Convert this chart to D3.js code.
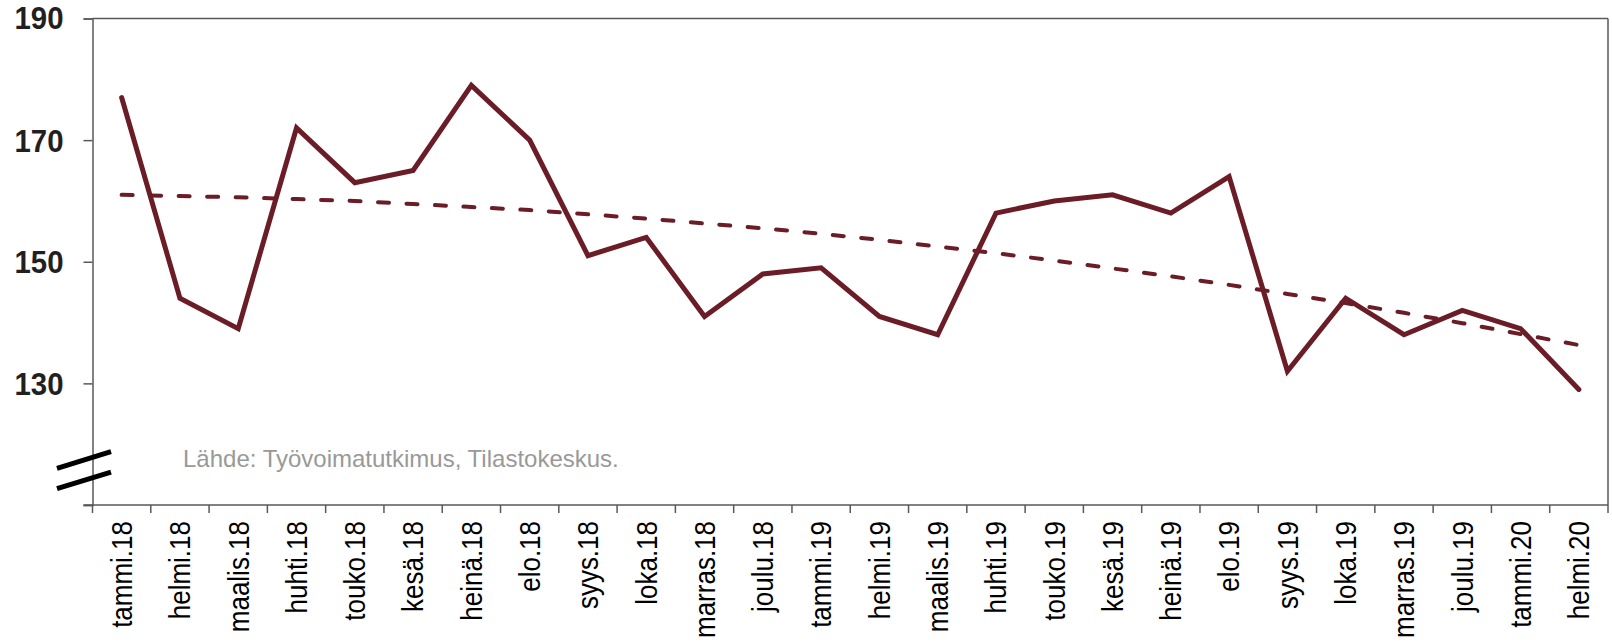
<!DOCTYPE html>
<html>
<head>
<meta charset="utf-8">
<script src="https://cdn.jsdelivr.net/npm/d3@7"></script>
<style>
  body { margin: 0; background: #fff; }
  svg { display: block; font-family: "Liberation Sans", Arial, sans-serif; }
  .domain, .tick line { stroke: #595959; stroke-width: 1.5; }
</style>
</head>
<body>
<svg id="chart" width="1612" height="642"></svg>
<script>
// kuukaudet tammi.18 - helmi.20
const months = ["tammi.18", "helmi.18", "maalis.18", "huhti.18", "touko.18", "kesä.18",
  "heinä.18", "elo.18", "syys.18", "loka.18", "marras.18", "joulu.18",
  "tammi.19", "helmi.19", "maalis.19", "huhti.19", "touko.19", "kesä.19",
  "heinä.19", "elo.19", "syys.19", "loka.19", "marras.19", "joulu.19",
  "tammi.20", "helmi.20"];

const values = [177, 144, 139, 172, 163, 165, 179, 170, 151, 154, 141, 148,
  149, 141, 138, 158, 160, 161, 158, 164, 132, 144, 138, 142, 139, 129];

// trendiviiva (luettu kuvasta)
const trend = [161.0, 160.8, 160.6, 160.3, 160.0, 159.5, 159.0, 158.5, 157.8, 157.1,
  156.3, 155.5, 154.6, 153.6, 152.5, 151.4, 150.2, 148.9, 147.6, 146.2,
  144.7, 143.2, 141.6, 139.9, 138.1, 136.3];

const yTicks = [110, 130, 150, 170, 190];
const source = "Lähde: Työvoimatutkimus, Tilastokeskus.";

const pLeft = 92.5, pRight = 1608, pTop = 18.5, pBottom = 505;
const color = "#6b1d27";

const svg = d3.select("#chart");

const x = d3.scaleBand().domain(months).range([pLeft, pRight]).padding(0);
const y = d3.scaleLinear().domain([110, 190]).range([pBottom, pTop]);

// kehys
svg.append("line")
    .attr("x1", pLeft).attr("x2", pRight)
    .attr("y1", pTop).attr("y2", pTop)
    .attr("stroke", "#595959").attr("stroke-width", 1.5);
svg.append("line")
    .attr("x1", pRight).attr("x2", pRight)
    .attr("y1", pTop).attr("y2", pBottom)
    .attr("stroke", "#595959").attr("stroke-width", 1.5);

// y-akseli
const yAxis = svg.append("g")
    .attr("transform", "translate(" + pLeft + ",0)")
    .call(d3.axisLeft(y).tickValues(yTicks).tickSize(9).tickPadding(20)
        .tickFormat(d => d === 110 ? "" : d));
yAxis.selectAll("text")
    .filter(d => d !== 110)
    .style("font-size", "31px")
    .style("font-weight", "bold")
    .attr("fill", "#231f20")
    .attr("dy", d => d === 190 ? "0.31em" : "0.36em")
    .attr("textLength", 49)
    .attr("lengthAdjust", "spacingAndGlyphs");

// x-akseli, tikit kaistojen rajoilla
const xAxis = svg.append("g")
    .attr("transform", "translate(0," + pBottom + ")")
    .call(d3.axisBottom(x).tickSize(0).tickPadding(0));
xAxis.select(".domain").attr("d", "M" + (pLeft - 9) + ",0H" + pRight);
xAxis.selectAll(".tick line").remove();
xAxis.selectAll(".tick text")
    .attr("transform", "rotate(-90) scale(1,1.17)")
    .attr("text-anchor", "end")
    .attr("x", -16)
    .attr("y", 0)
    .attr("dy", "0.34em")
    .attr("fill", "#000")
    .style("font-size", "26px");

const bounds = months.map(m => x(m)).concat([pRight]);
xAxis.selectAll("line.sep")
    .data(bounds)
    .enter().append("line")
    .attr("class", "sep")
    .attr("x1", d => d).attr("x2", d => d)
    .attr("y1", 0).attr("y2", 8)
    .attr("stroke", "#595959").attr("stroke-width", 1.5);

// katkomerkki
[117.4, 114.05].forEach(v => {
    svg.append("line")
        .attr("x1", 57).attr("y1", y(v) + 8.3)
        .attr("x2", 111).attr("y2", y(v) - 8.3)
        .attr("stroke", "#000").attr("stroke-width", 5);
});

// lähde
svg.append("text")
    .attr("x", 183).attr("y", 467)
    .attr("fill", "#999999")
    .style("font-size", "24px")
    .text(source);

const cx = d => x(d) + x.bandwidth() / 2;

// trendi
svg.append("path")
    .datum(trend)
    .attr("fill", "none")
    .attr("stroke", color)
    .attr("stroke-width", 4)
    .attr("stroke-dasharray", "11 17.5")
    .attr("stroke-linecap", "round")
    .attr("d", d3.line().x((d, i) => cx(months[i])).y(d => y(d)));

// sarja
svg.append("path")
    .datum(values)
    .attr("fill", "none")
    .attr("stroke", color)
    .attr("stroke-width", 5)
    .attr("stroke-linejoin", "miter")
    .attr("stroke-linecap", "round")
    .attr("d", d3.line().x((d, i) => cx(months[i])).y(d => y(d)));
</script>
</body>
</html>
